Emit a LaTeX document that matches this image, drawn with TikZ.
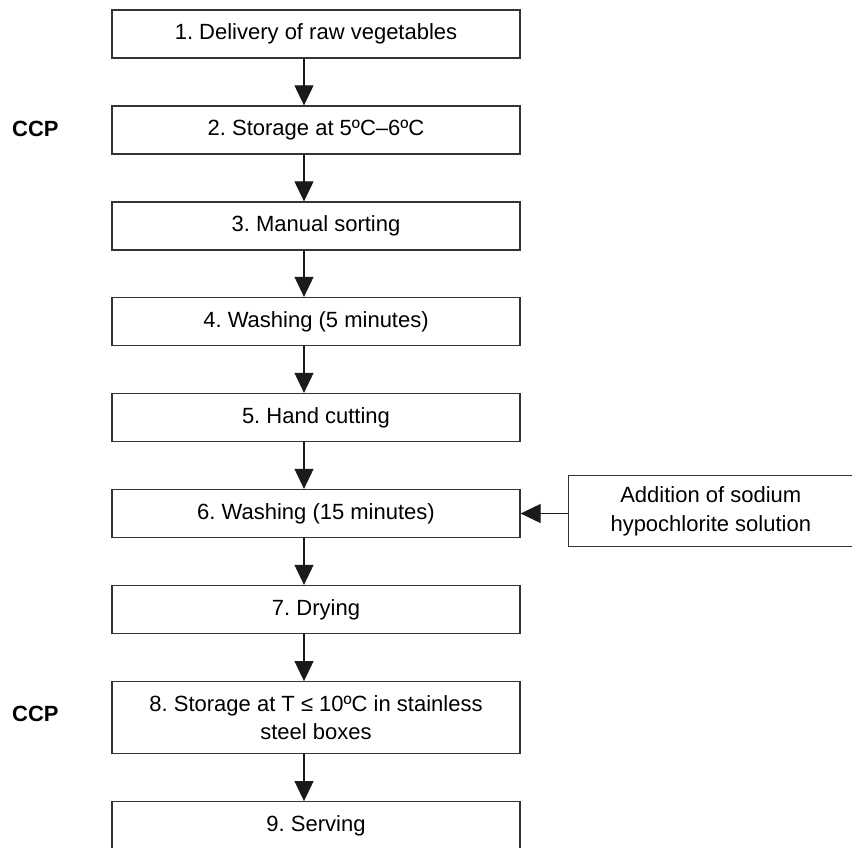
\documentclass[tikz,border=0pt]{standalone}
\usepackage{fontspec}
\setmainfont{Liberation Sans}
\usetikzlibrary{arrows.meta}
\definecolor{edge}{HTML}{333333}
\definecolor{arrowc}{HTML}{1A1A1A}
\tikzset{
  stepbox/.style={draw=edge, line width=1.3pt, minimum width=408pt, minimum height=48pt,
    inner sep=0pt, align=center, font=\fontsize{22}{28.3}\selectfont},
  sidebox/.style={draw=edge, line width=1.3pt, minimum width=285pt, minimum height=71pt,
    inner sep=0pt, align=center, font=\fontsize{22}{28.3}\selectfont},
  ccp/.style={anchor=base west, inner sep=0pt, font=\fontsize{22}{26}\selectfont\bfseries},
  flow/.style={draw=arrowc, fill=arrowc, line width=1.1pt, -{Triangle[length=20pt,width=19pt]}}
}
\begin{document}
\frenchspacing
\begin{tikzpicture}[x=1pt,y=-1pt]
\useasboundingbox (0,0) rectangle (852,847);
\node[stepbox] (b1) at (316,34) {1. Delivery of raw vegetables};
\node[stepbox] (b2) at (316,130) {2. Storage at 5ºC–6ºC};
\node[stepbox] (b3) at (316,226) {3. Manual sorting};
\node[stepbox] (b4) at (316,321.5) {4. Washing (5 minutes)};
\node[stepbox] (b5) at (316,417.5) {5. Hand cutting};
\node[stepbox] (b6) at (316,513.5) {6. Washing (15 minutes)};
\node[stepbox] (b7) at (316,609.5) {7. Drying};
\node[stepbox, minimum height=71.6pt] (b8) at (316,717.5) {8. Storage at T ≤ 10ºC in stainless\\steel boxes};
\node[stepbox] (b9) at (316,825.7) {9. Serving};
\node[sidebox] (add) at (710.8,511.3) {Addition of sodium\\hypochlorite solution};
\node[ccp] (c1) at (12,136) {CCP};
\node[ccp] (c2) at (12,721.7) {CCP};
\foreach \a/\b in {b1/b2,b2/b3,b3/b4,b4/b5,b5/b6,b6/b7,b7/b8,b8/b9}
  \draw[flow] ([xshift=-12pt]\a.south) -- ([xshift=-12pt]\b.north);
\draw[flow] (b6.east -| add.west) -- (b6.east);
\end{tikzpicture}
\end{document}
